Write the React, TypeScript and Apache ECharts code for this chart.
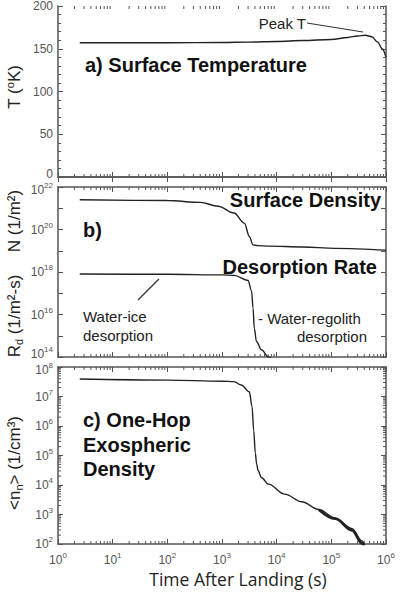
import React, { useEffect, useRef } from "react";
import * as echarts from "echarts";

// ---- data ----
const TEMP_TIME = [2.5, 10, 100, 1000, 3000, 10000, 30000, 100000, 200000, 300000, 420000, 550000, 700000, 850000, 1000000];
const TEMP_K = [157, 157, 157, 157.3, 157.8, 158.5, 159.6, 160.8, 163.2, 165, 165.8, 164, 158, 150, 140];

const DENS_TIME = [2.5, 100, 400, 850, 1660, 2570, 3160, 3700, 4500, 7080, 30000, 117000, 1000000];
const DENS_N = [2.5e21, 2.3e21, 1.9e21, 1.25e21, 6e20, 2e20, 4.7e19, 1.9e19, 1.75e19, 1.65e19, 1.5e19, 1.3e19, 1.07e19];

const DES_TIME = [2.5, 100, 1000, 1660, 3000, 3470, 3700, 3900, 4270, 5250, 7080, 9000];
const DES_R = [8e17, 7.8e17, 7.3e17, 6.9e17, 4e17, 1.3e17, 2e16, 2.2e15, 5.4e14, 2.2e14, 1e14, 6e13];

const EXO_TIME = [2.5, 100, 1000, 1660, 2240, 3160, 3550, 3800, 4070, 4300, 4570, 5250, 7080, 14100, 28800, 58900, 117500, 240000, 363000, 420000];
const EXO_N = [3.9e7, 3.6e7, 3.3e7, 3.2e7, 2.45e7, 1.45e7, 4.5e6, 7e5, 1.2e5, 5.2e4, 3.1e4, 1.8e4, 1.07e4, 4.9e3, 2.7e3, 1.48e3, 760, 330, 126, 80];
// lower edge of the thick (noisy) tail
const EXO_TAIL_TIME = [58900, 117500, 240000, 363000, 420000];
const EXO_TAIL_N = [1.46e3, 720, 290, 105, 70];

const X_DECADES = [1, 10, 100, 1000, 10000, 100000];
const C_DECADES = [100, 1000, 10000, 100000, 1000000, 10000000];
const MINOR_MULT = [2, 3, 4, 5, 6, 7, 8, 9];

const AXIS_COLOR = "#555";
const LABEL_COLOR = "#555";
const LINE_COLOR = "#222";
const FONT = "Liberation Sans";

const pairs = (xs: number[], ys: number[]) => xs.map((x, i) => [x, ys[i]]);

const expOf = (v: number) => Math.round(Math.log10(v));
// shift: "" normal, "u" nudged up, "d" nudged down
const expLabel = (v: number, shift = "") => `{b${shift}|10}{e${shift}|${expOf(v)}}`;
const tok = (size: number, padding: number[]) => ({
  fontSize: size,
  fontFamily: FONT,
  color: LABEL_COLOR,
  padding,
});
const richLabel = {
  b: tok(12, [0, 0, 0, 0]),
  e: tok(8, [0, 0, 9, 0]),
  bu: tok(12, [0, 0, 6, 0]),
  eu: tok(8, [0, 0, 15, 0]),
  bd: tok(12, [6, 0, 0, 0]),
  ed: tok(8, [0, 0, 3, 0]),
  u: tok(12, [0, 0, 6, 0]),
};

export default function App() {
  const ref = useRef<HTMLDivElement>(null);
  useEffect(() => {
    document.body.style.margin = "0";
    const chart = echarts.init(ref.current!, undefined, { renderer: "svg" });

    const grids = [
      { left: 58, right: 14, top: 5, height: 172 },
      { left: 58, right: 14, top: 187, height: 170 },
      { left: 58, right: 14, top: 367, height: 177 },
    ];
    const axisLine = { show: true, lineStyle: { color: AXIS_COLOR, width: 1.5 } };
    const tick = { show: true, inside: true, length: 5, lineStyle: { color: AXIS_COLOR, width: 1 } };

    const xAxis: any[] = [];
    grids.forEach((_, i) => {
      ["bottom", "top"].forEach((pos) => {
        xAxis.push({
          type: "log",
          logBase: 10,
          gridIndex: i,
          position: pos,
          min: 1,
          max: 1e6,
          axisLine,
          axisTick: tick,
          splitLine: { show: false },
          axisLabel:
            i === 2 && pos === "bottom"
              ? { show: true, margin: 7, formatter: (v: number) => expLabel(v), rich: richLabel }
              : { show: false },
        });
      });
    });

    const yAxis: any[] = [];
    ["left", "right"].forEach((pos) =>
      yAxis.push({
        type: "value",
        gridIndex: 0,
        position: pos,
        min: 0,
        max: 200,
        interval: 50,
        axisLine,
        axisTick: tick,
        minorTick: { show: true, splitNumber: 5, length: 3, lineStyle: { color: AXIS_COLOR, width: 1 } },
        splitLine: { show: false },
        axisLabel:
          pos === "left"
            ? {
                show: true,
                margin: 5,
                color: LABEL_COLOR,
                fontSize: 12,
                fontFamily: FONT,
                formatter: (v: number) => (v === 0 ? "{u|0}" : String(v)),
                rich: richLabel,
              }
            : { show: false },
      })
    );
    ["left", "right"].forEach((pos) =>
      yAxis.push({
        type: "log",
        logBase: 10,
        gridIndex: 1,
        position: pos,
        min: 1e14,
        max: 1e22,
        splitNumber: 8,
        axisLine,
        axisTick: tick,
        splitLine: { show: false },
        axisLabel:
          pos === "left"
            ? {
                show: true,
                margin: 5,
                formatter: (v: number) => {
                  const e = expOf(v);
                  if (e % 2 !== 0) return "";
                  return expLabel(v, e === 14 ? "u" : e === 22 ? "d" : "");
                },
                rich: richLabel,
              }
            : { show: false },
      })
    );
    ["left", "right"].forEach((pos) =>
      yAxis.push({
        type: "log",
        logBase: 10,
        gridIndex: 2,
        position: pos,
        min: 100,
        max: 1e8,
        axisLine,
        axisTick: tick,
        splitLine: { show: false },
        axisLabel:
          pos === "left"
            ? { show: true, margin: 5, formatter: (v: number) => expLabel(v, expOf(v) === 8 ? "d" : ""), rich: richLabel }
            : { show: false },
      })
    );

    const xMinor = (g: number, yBase: number) => {
      const data: number[][] = [];
      X_DECADES.forEach((d) => MINOR_MULT.forEach((m) => data.push([d * m, yBase])));
      return {
        type: "custom",
        xAxisIndex: g * 2,
        yAxisIndex: g * 2,
        silent: true,
        encode: { x: 0, y: 1 },
        data,
        renderItem: (params: any, api: any) => {
          const cs = params.coordSys;
          const p = api.coord([api.value(0), api.value(1)]);
          const style = { stroke: AXIS_COLOR, lineWidth: 1 };
          return {
            type: "group",
            children: [
              { type: "line", shape: { x1: p[0], y1: cs.y, x2: p[0], y2: cs.y + 3 }, style },
              { type: "line", shape: { x1: p[0], y1: cs.y + cs.height, x2: p[0], y2: cs.y + cs.height - 3 }, style },
            ],
          };
        },
      };
    };
    const yMinorC = () => {
      const data: number[][] = [];
      C_DECADES.forEach((d) => MINOR_MULT.forEach((m) => data.push([1, d * m])));
      return {
        type: "custom",
        xAxisIndex: 4,
        yAxisIndex: 4,
        silent: true,
        encode: { x: 0, y: 1 },
        data,
        renderItem: (params: any, api: any) => {
          const cs = params.coordSys;
          const p = api.coord([api.value(0), api.value(1)]);
          const style = { stroke: AXIS_COLOR, lineWidth: 1 };
          return {
            type: "group",
            children: [
              { type: "line", shape: { x1: cs.x, y1: p[1], x2: cs.x + 3, y2: p[1] }, style },
              { type: "line", shape: { x1: cs.x + cs.width, y1: p[1], x2: cs.x + cs.width - 3, y2: p[1] }, style },
            ],
          };
        },
      };
    };

    const line = (xi: number, yi: number, data: number[][], width = 1.4) => ({
      type: "line",
      xAxisIndex: xi,
      yAxisIndex: yi,
      data,
      showSymbol: false,
      smooth: 0.35,
      smoothMonotone: "x",
      silent: true,
      clip: true,
      lineStyle: { color: LINE_COLOR, width },
    });

    const boldText = (x: number, y: number, text: string, align = "left") => ({
      type: "text",
      x,
      y,
      style: {
        text,
        fill: "#111",
        font: `bold 20px "${FONT}"`,
        align,
        textAlign: align,
        verticalAlign: "middle",
        textVerticalAlign: "middle",
      },
    });
    const plainText = (x: number, y: number, text: string, align = "left") => ({
      type: "text",
      x,
      y,
      style: {
        text,
        fill: "#222",
        font: `15px "${FONT}"`,
        align,
        textAlign: align,
        verticalAlign: "middle",
        textVerticalAlign: "middle",
      },
    });
    const nameRich = {
      b: { fontSize: 17, fontFamily: FONT, fill: "#222", color: "#222", lineHeight: 20 },
      s: { fontSize: 11, fontFamily: FONT, fill: "#222", color: "#222", verticalAlign: "top", lineHeight: 11 },
      d: { fontSize: 11, fontFamily: FONT, fill: "#222", color: "#222", verticalAlign: "bottom", lineHeight: 11 },
    };
    const yName = (y: number, text: string) => ({
      type: "text",
      x: 14,
      y,
      rotation: Math.PI / 2,
      style: {
        text,
        rich: nameRich,
        fill: "#222",
        align: "center",
        textAlign: "center",
        verticalAlign: "middle",
        textVerticalAlign: "middle",
      },
    });
    const seg = (x1: number, y1: number, x2: number, y2: number) => ({
      type: "line",
      shape: { x1, y1, x2, y2 },
      style: { stroke: "#333", lineWidth: 1.2 },
    });

    chart.setOption({
      animation: false,
      grid: grids,
      xAxis,
      yAxis,
      series: [
        xMinor(0, 0),
        xMinor(1, 1e14),
        xMinor(2, 100),
        yMinorC(),
        line(0, 0, pairs(TEMP_TIME, TEMP_K)),
        line(2, 2, pairs(DENS_TIME, DENS_N)),
        line(2, 2, pairs(DES_TIME, DES_R)),
        line(4, 4, pairs(EXO_TIME, EXO_N)),
        line(4, 4, pairs(EXO_TAIL_TIME, EXO_TAIL_N), 2.6),
      ],
      graphic: [
        boldText(85, 65, "a) Surface Temperature"),
        plainText(306, 23, "Peak T", "right"),
        seg(307, 23, 363, 32),
        boldText(381, 200, "Surface Density", "right"),
        boldText(83, 230, "b)"),
        boldText(377, 267, "Desorption Rate", "right"),
        plainText(83, 316, "Water-ice"),
        plainText(83, 335, "desorption"),
        seg(138, 300, 159, 279),
        plainText(258, 318, "- Water-regolith"),
        plainText(367, 336, "desorption", "right"),
        boldText(83, 420, "c) One-Hop"),
        boldText(83, 445, "Exospheric"),
        boldText(83, 469, "Density"),
        yName(87, "{b|T (}{s|o}{b|K)}"),
        yName(221, "{b|N (1/m²)}"),
        yName(316, "{b|R}{d|d}{b| (1/m²-s)}"),
        yName(463, "{b|<n}{d|n}{b|> (1/cm³)}"),
        {
          type: "text",
          x: 238,
          y: 579,
          style: {
            text: "Time After Landing (s)",
            fill: "#222",
            font: `17.5px "Open Sans"`,
            align: "center",
            textAlign: "center",
            verticalAlign: "middle",
            textVerticalAlign: "middle",
          },
        },
      ],
    });
    return () => chart.dispose();
  }, []);
  return <div ref={ref} style={{ width: 400, height: 592 }} />;
}
